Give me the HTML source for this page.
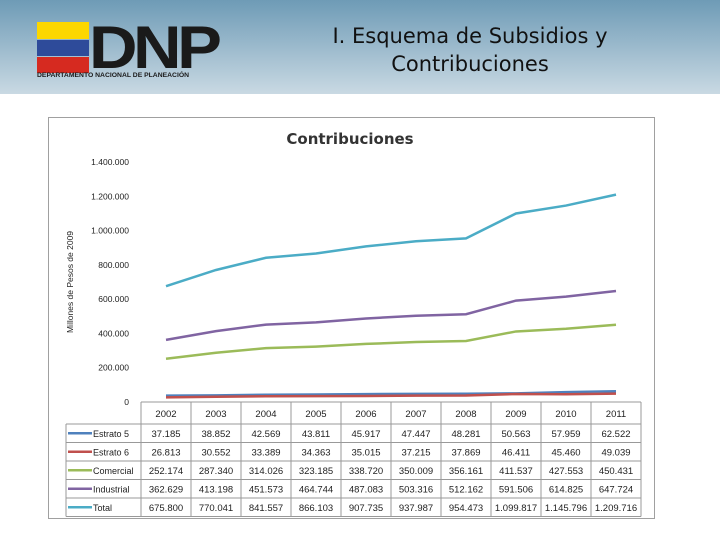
<!DOCTYPE html>
<html><head><meta charset="utf-8"><style>
body{margin:0;width:720px;height:540px;background:#fff;position:relative;overflow:hidden;font-family:"Liberation Sans","DejaVu Sans",sans-serif}
#hdr{position:absolute;left:0;top:0;width:720px;height:94px;background:linear-gradient(#6e9bb6,#c9d9e3)}
#chart{position:absolute;left:48px;top:117px;width:605px;height:400px;border:1px solid #a0a0a0;background:#fff}
</style></head><body>
<div id="hdr">
 <div style="position:absolute;left:37px;top:22px">
  <div style="position:absolute;left:0;top:0;width:52px;height:17px;background:#fcd700"></div>
  <div style="position:absolute;left:0;top:18px;width:52px;height:16px;background:#2e4b9a"></div>
  <div style="position:absolute;left:0;top:35px;width:52px;height:16px;background:#d62a20"></div>
  <div style="position:absolute;left:52px;top:-9px;font:bold 60px 'Liberation Sans',sans-serif;color:#1a1a1a;letter-spacing:-4px;transform:scaleX(1.12);transform-origin:left">DNP</div>
  <div style="position:absolute;left:0;top:50px;font:bold 6.8px 'Liberation Sans',sans-serif;color:#1a1a1a;white-space:nowrap">DEPARTAMENTO NACIONAL DE PLANEACIÓN</div>
 </div>
 <div style="position:absolute;left:300px;top:22px;width:340px;text-align:center;font-size:21px;line-height:28px;color:#111;font-family:'DejaVu Sans',sans-serif">I. Esquema de Subsidios y<br>Contribuciones</div>
</div>
<div id="chart"></div>
<svg id="svg" width="720" height="540" style="position:absolute;left:0;top:0"></svg>
<script>
const years=["2002","2003","2004","2005","2006","2007","2008","2009","2010","2011"];
const seriesNames=["Estrato 5","Estrato 6","Comercial","Industrial","Total"];
const estrato5=[37185,38852,42569,43811,45917,47447,48281,50563,57959,62522];
const estrato6=[26813,30552,33389,34363,35015,37215,37869,46411,45460,49039];
const comercial=[252174,287340,314026,323185,338720,350009,356161,411537,427553,450431];
const industrial=[362629,413198,451573,464744,487083,503316,512162,591506,614825,647724];
const total=[675800,770041,841557,866103,907735,937987,954473,1099817,1145796,1209716];
const yTicks=[0,200000,400000,600000,800000,1000000,1200000,1400000];
const colors=["#4f81bd","#c0504d","#9bbb59","#8064a2","#4bacc6"];
const svg=document.getElementById('svg');const NS="http://www.w3.org/2000/svg";
function y(v){return 402-v/1400000*240;}
function x(i){return 166+i*50;}
function fmt(v){return v.toString().replace(/\B(?=(\d{3})+(?!\d))/g,".");}
function el(t,a,txt){const e=document.createElementNS(NS,t);for(const k in a)e.setAttribute(k,a[k]);if(txt!==undefined)e.textContent=txt;svg.appendChild(e);return e;}
let t=el('text',{x:350,y:144,'text-anchor':'middle','font-size':15,'font-weight':'bold',fill:'#333','font-family':'DejaVu Sans, sans-serif'},'Contribuciones');


t=el('text',{transform:'translate(73,282) rotate(-90)','text-anchor':'middle','font-size':8.5,fill:'#222'},'Millones de Pesos de 2009');


yTicks.forEach(v=>{const e=el('text',{x:129,y:y(v)+3,'text-anchor':'end','font-size':8.5,fill:'#222'},fmt(v));

});
const data=[estrato5,estrato6,comercial,industrial,total];
data.forEach((s,k)=>{const p=el('polyline',{points:s.map((v,i)=>x(i)+','+y(v)).join(' '),fill:'none',stroke:colors[k],'stroke-width':2.5});

});
const TL=66,TC=141,TR=641,T0=402,HH=22,RH=18.5;
el('line',{x1:TC,y1:T0,x2:TR,y2:T0,stroke:'#999'});
for(let i=0;i<=10;i++)el('line',{x1:TC+i*50,y1:T0,x2:TC+i*50,y2:T0+HH+5*RH,stroke:'#999'});
el('line',{x1:TL,y1:T0+HH,x2:TL,y2:T0+HH+5*RH,stroke:'#999'});
for(let r=0;r<=5;r++)el('line',{x1:TL,y1:T0+HH+r*RH,x2:TR,y2:T0+HH+r*RH,stroke:'#999'});
years.forEach((yy,i)=>{const e=el('text',{x:x(i),y:T0+15,'text-anchor':'middle','font-size':9.5,fill:'#222'},yy);

});
data.forEach((s,k)=>{const cy=T0+HH+k*RH+RH/2;
 el('line',{x1:68,y1:cy,x2:92,y2:cy,stroke:colors[k],'stroke-width':2.5});
 const lb=el('text',{x:93,y:cy+3.5,'font-size':9,fill:'#222'},seriesNames[k]);
 
 
 s.forEach((v,i)=>{const e=el('text',{x:x(i),y:cy+3.5,'text-anchor':'middle','font-size':9.5,fill:'#222'},fmt(v));
 
 });
});
</script>
</body></html>
